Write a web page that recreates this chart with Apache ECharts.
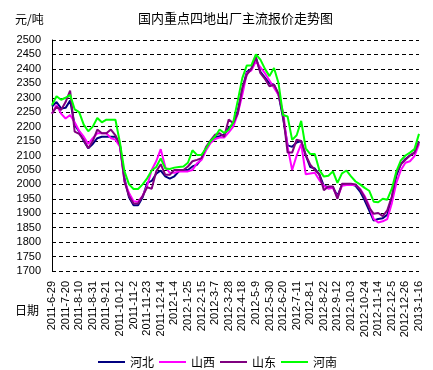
<!DOCTYPE html>
<html><head><meta charset="utf-8">
<script src="https://cdn.jsdelivr.net/npm/echarts@6/dist/echarts.min.js"></script>
<style>html,body{margin:0;padding:0;background:#fff}#c{width:433px;height:370px}</style>
</head><body><div id="c"></div>
<script>
const dates = ['2011-6-29','2011-7-6','2011-7-13','2011-7-20','2011-7-27','2011-8-3','2011-8-10','2011-8-17','2011-8-24','2011-8-31',
'2011-9-7','2011-9-14','2011-9-21','2011-9-28','2011-10-5','2011-10-12','2011-10-19','2011-10-26','2011-11-2','2011-11-9',
'2011-11-16','2011-11-23','2011-11-30','2011-12-7','2011-12-14','2011-12-21','2011-12-28','2012-1-4','2012-1-11','2012-1-18',
'2012-1-25','2012-2-1','2012-2-8','2012-2-15','2012-2-22','2012-2-29','2012-3-7','2012-3-14','2012-3-21','2012-3-28',
'2012-4-4','2012-4-11','2012-4-18','2012-4-25','2012-5-2','2012-5-9','2012-5-16','2012-5-23','2012-5-30','2012-6-6',
'2012-6-13','2012-6-20','2012-6-27','2012-7-4','2012-7-11','2012-7-18','2012-7-25','2012-8-1','2012-8-8','2012-8-15',
'2012-8-22','2012-8-29','2012-9-5','2012-9-12','2012-9-19','2012-9-26','2012-10-3','2012-10-10','2012-10-17','2012-10-24',
'2012-10-31','2012-11-7','2012-11-14','2012-11-21','2012-11-28','2012-12-5','2012-12-12','2012-12-19','2012-12-26','2013-1-2',
'2013-1-9','2013-1-16'];

const hebei = [2270,2285,2263,2265,2290,2206,2183,2150,2125,2140,
2160,2165,2165,2165,2165,2135,2020,1955,1928,1928,
1955,2005,2012,2037,2048,2028,2020,2028,2045,2050,
2050,2062,2068,2088,2125,2150,2164,2167,2173,2195,
2210,2255,2330,2390,2400,2438,2390,2370,2350,2345,
2310,2230,2135,2130,2145,2150,2100,2060,2055,2035,
1995,1990,1990,1960,1998,2000,2000,1995,1975,1945,
1910,1875,1880,1883,1895,1950,2030,2070,2088,2100,
2110,2148];

const shanxi = [2245,2275,2245,2228,2240,2215,2185,2165,2140,2160,
2177,2177,2177,2160,2155,2130,2010,1970,1942,1940,
1960,1995,2050,2080,2122,2060,2040,2040,2045,2045,
2045,2050,2073,2085,2118,2143,2157,2162,2162,2180,
2200,2245,2310,2385,2395,2425,2405,2385,2360,2335,
2310,2250,2130,2050,2100,2140,2035,2038,2040,2015,
1995,1985,1988,1955,1995,1998,1998,1998,1985,1960,
1925,1880,1868,1872,1880,1935,2005,2050,2075,2080,
2098,2140];

const shandong = [2245,2269,2258,2285,2325,2183,2175,2154,2125,2150,
2190,2177,2177,2190,2170,2137,2010,1960,1934,1934,
1960,1990,1985,2045,2070,2033,2033,2050,2050,2050,
2062,2080,2085,2091,2130,2152,2172,2177,2165,2225,
2212,2245,2333,2380,2400,2440,2385,2365,2340,2345,
2314,2240,2110,2110,2155,2150,2102,2068,2050,2035,
1980,1993,1993,1950,2002,2002,2002,2000,1982,1955,
1920,1898,1901,1890,1910,1958,2040,2070,2085,2100,
2110,2148];

const henan = [2275,2305,2293,2300,2310,2260,2250,2207,2184,2200,
2230,2215,2224,2224,2224,2144,2045,2000,1984,1984,
2000,2021,2048,2060,2090,2055,2053,2058,2060,2062,
2075,2118,2102,2102,2125,2150,2166,2190,2178,2189,
2215,2290,2368,2412,2412,2450,2432,2400,2375,2403,
2350,2240,2235,2154,2170,2220,2125,2105,2105,2050,
2027,2030,2045,2005,2038,2048,2028,2010,2000,1988,
1978,1940,1938,1950,1947,1985,2045,2083,2100,2110,
2122,2175];

const seriesNames = ['河北','山西','山东','河南'];
const seriesColors = ['#000080','#FF00FF','#800080','#00FF00'];
const seriesData = [hebei, shanxi, shandong, henan];

const chart = echarts.init(document.getElementById('c'), null, {renderer:'canvas'});
const cjk = '"Noto Sans CJK SC", sans-serif';
const num = '"Liberation Sans", Arial, sans-serif';
chart.setOption({
  animation:false,
  backgroundColor:'#fff',
  title:{text:'国内重点四地出厂主流报价走势图', left:133, top:7,
    textStyle:{fontSize:13, fontWeight:'normal', color:'#000', fontFamily:cjk}},
  graphic:[
    {type:'text', left:15, top:13, style:{text:'元/吨', fontSize:12, fill:'#000', fontFamily:cjk}},
    {type:'text', left:15, top:304, style:{text:'日期', fontSize:12, fill:'#000', fontFamily:cjk}}
  ],
  legend:{left:93, top:351, itemWidth:27, itemHeight:2, itemGap:5, icon:'rect',
    textStyle:{fontSize:12, color:'#000', fontFamily:cjk}, data:seriesNames},
  grid:{left:52, right:14, top:40, bottom:99},
  xAxis:{type:'category', data:dates, boundaryGap:false,
    axisLine:{show:false}, axisTick:{show:false},
    axisLabel:{rotate:90, interval:2, fontSize:11, color:'#000', fontFamily:num, margin:10},
    splitLine:{show:false}},
  yAxis:{type:'value', min:1700, max:2500, interval:50,
    axisLine:{show:true, lineStyle:{color:'#000', width:1}}, axisTick:{show:false},
    axisLabel:{fontSize:11, color:'#000', fontFamily:num, margin:11, formatter:v=>String(v)},
    splitLine:{show:true, lineStyle:{color:'#000', type:[4,3], width:1}}},
  series: seriesNames.map((n,i)=>({
    name:n, type:'line', data:seriesData[i], showSymbol:false, symbol:'none',
    lineStyle:{color:seriesColors[i], width:2}, itemStyle:{color:seriesColors[i]}
  }))
});
</script></body></html>
